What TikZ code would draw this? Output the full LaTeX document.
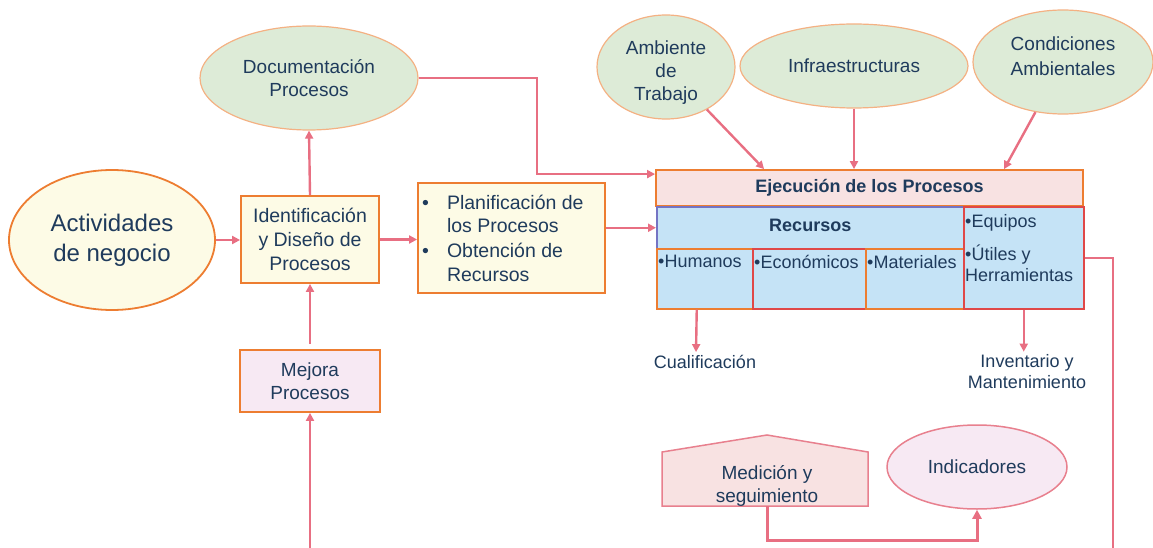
\documentclass[tikz,border=0pt]{standalone}
\usepackage{fontspec}
\setmainfont{Liberation Sans}
\usetikzlibrary{shapes.geometric,arrows.meta,calc}
\definecolor{txt}{HTML}{1F3B5C}
\definecolor{arrc}{HTML}{E86F82}
\definecolor{orng}{HTML}{ED7D31}
\definecolor{lorng}{HTML}{F4B183}
\definecolor{gfill}{HTML}{DDEBD7}
\definecolor{yfill}{HTML}{FDFBE6}
\definecolor{pfill}{HTML}{F8E2E2}
\definecolor{lfill}{HTML}{F7E9F3}
\definecolor{bfill}{HTML}{C5E3F6}
\definecolor{bbord}{HTML}{7474C4}
\definecolor{rbord}{HTML}{E04848}
\definecolor{pbord}{HTML}{E8808E}
\tikzset{
  arr/.style={draw=arrc, line width=2.4pt, -{Triangle[length=8pt,width=8pt]}},
  plainline/.style={draw=arrc, line width=2.4pt},
  gell/.style={ellipse, draw=lorng, line width=1.2pt, fill=gfill, inner sep=0pt, align=center, text=txt, font=\fontsize{19}{23}\selectfont},
  ttxt/.style={inner sep=0pt, align=center, text=txt, font=\fontsize{19}{23}\selectfont},
  obox/.style={rectangle, draw=orng, line width=1.8pt, inner sep=0pt, align=center, text=txt, font=\fontsize{19.5}{24}\selectfont},
  cell/.style={rectangle, line width=1.5pt, fill=bfill, inner sep=0pt, anchor=north west},
  celltxt/.style={anchor=north west, inner sep=0pt, align=left, text=txt, font=\fontsize{18}{20}\selectfont},
  lbl/.style={inner sep=0pt, align=center, text=txt, font=\fontsize{18}{21}\selectfont}
}
\begin{document}
\begin{tikzpicture}[x=1pt,y=-1pt]
\useasboundingbox (0,0) rectangle (1153,548);
% ellipses
\node[ellipse, draw=orng, line width=1.8pt, fill=yfill, minimum width=206pt, minimum height=140pt, inner sep=0pt, align=center, text=txt, font=\fontsize{24}{30}\selectfont] (act) at (112,240) {Actividades\\de negocio};
\node[gell, minimum width=218pt, minimum height=104pt] (doc) at (309,78) {Documentación\\Procesos};
\node[gell, minimum width=138pt, minimum height=104pt] (amb) at (666,67) {};
\node[ttxt] (ambt) at (666,73) {Ambiente\\de\\Trabajo};
\node[gell, minimum width=228pt, minimum height=84pt] (infra) at (854,66) {Infraestructuras};
\node[gell, minimum width=180pt, minimum height=104pt] (cond) at (1063,62) {};
\node[ttxt, font=\fontsize{19}{25}\selectfont] (condt) at (1063,56) {Condiciones\\Ambientales};
% boxes
\node[obox, fill=yfill, minimum width=138pt, minimum height=87pt] (ident) at (310,239.5) {Identificación\\y Diseño de\\Procesos};
\node[obox, fill=yfill, minimum width=187pt, minimum height=110pt] (plan) at (511.5,238) {};
\node[anchor=north west, inner sep=0pt, text=txt, font=\fontsize{19.5}{24}\selectfont] (plant) at (422,192)
  {\begin{tabular}{@{}l@{\hspace{18pt}}l@{}}•&Planificación de\\ &los Procesos\\ •&Obtención de\\ &Recursos\end{tabular}};
\node[obox, fill=lfill, minimum width=140pt, minimum height=62pt, font=\fontsize{19}{23}\selectfont] (mej) at (310,381) {Mejora\\Procesos};
% execution block
\node[rectangle, draw=orng, line width=1.8pt, fill=pfill, minimum width=427pt, minimum height=36pt, inner sep=0pt, text=txt, font=\bfseries\fontsize{18}{20}\selectfont] (ejec) at (869.5,188) {Ejecución de los Procesos};
\node[cell, draw=bbord, minimum width=307pt, minimum height=42pt] (rec) at (656,206) {};
\node[inner sep=0pt, text=txt, font=\bfseries\fontsize{18}{20}\selectfont] (rect) at ([yshift=2pt]rec.center) {Recursos};
\node[cell, draw=orng, minimum width=96pt, minimum height=60pt] (hum) at (656,248) {};
\node[cell, draw=rbord, minimum width=113pt, minimum height=60pt] (eco) at (752,248) {};
\node[cell, draw=orng, minimum width=98pt, minimum height=60pt] (mat) at (865,248) {};
\node[cell, draw=rbord, minimum width=120pt, minimum height=102pt] (equ) at (963,206) {};
\node[celltxt] (humt) at (658,255) {•Humanos};
\node[celltxt] (ecot) at (754,255) {•Económicos};
\node[celltxt] (matt) at (867,255) {•Materiales};
\node[celltxt] (equt1) at (965,214) {•Equipos};
\node[celltxt, font=\fontsize{18}{21}\selectfont] (equt2) at (965,245) {•Útiles y\\Herramientas};
% lower labels
\node[lbl] (cual) at (705,362) {Cualificación};
\node[lbl] (inv) at (1027,372) {Inventario y\\Mantenimiento};
% measurement
\draw[draw=pbord, line width=1.5pt, fill=pfill] (662,452) -- (767,435) -- (868,452) -- (868,506) -- (662,506) -- cycle;
\node[ttxt] (med) at (767,486) {Medición y\\seguimiento};
\coordinate (medb) at (767,506);
\node[ellipse, draw=pbord, line width=1.5pt, fill=lfill, minimum width=180pt, minimum height=84pt, inner sep=0pt, text=txt, font=\fontsize{19}{23}\selectfont] (ind) at (977,467) {Indicadores};
% free ends
\coordinate (bot1) at (310,548);
\coordinate (bot2) at (1113,548);
% connectors
\draw[arr] (act.east) -- (act.east -| ident.west);
\draw[arr] (ident.north) -- (doc.south);
\draw[arr] (ident.east) -- (ident.east -| plan.west);
\draw[arr] (rec.west -| plan.east) -- (rec.west);
\draw[arr] (doc.east) -- (537,78) |- ([yshift=-5pt]ejec.north west);
\draw[arr] (amb) -- ($(ejec.north west)+(109,0)$);
\draw[arr] (infra.south) -- (infra.south |- ejec.north);
\draw[arr] (cond) -- ($(ejec.north west)+(349,0)$);
\draw[arr] ([xshift=-8pt]hum.south) -- ([xshift=-9pt,yshift=3pt]cual.north);
\draw[arr] (equ.south) -- ([yshift=3pt]equ.south |- inv.north);
\draw[plainline] (equ.east) -| (bot2);
\draw[arr] (bot1) -- (mej.south);
\draw[arr, shorten <=5pt] (mej.north) -- (ident.south);
\draw[draw=arrc, line width=3pt, -{Triangle[length=9pt,width=9pt]}] (medb) -- (767,540) -| (ind.south);
\end{tikzpicture}
\end{document}
